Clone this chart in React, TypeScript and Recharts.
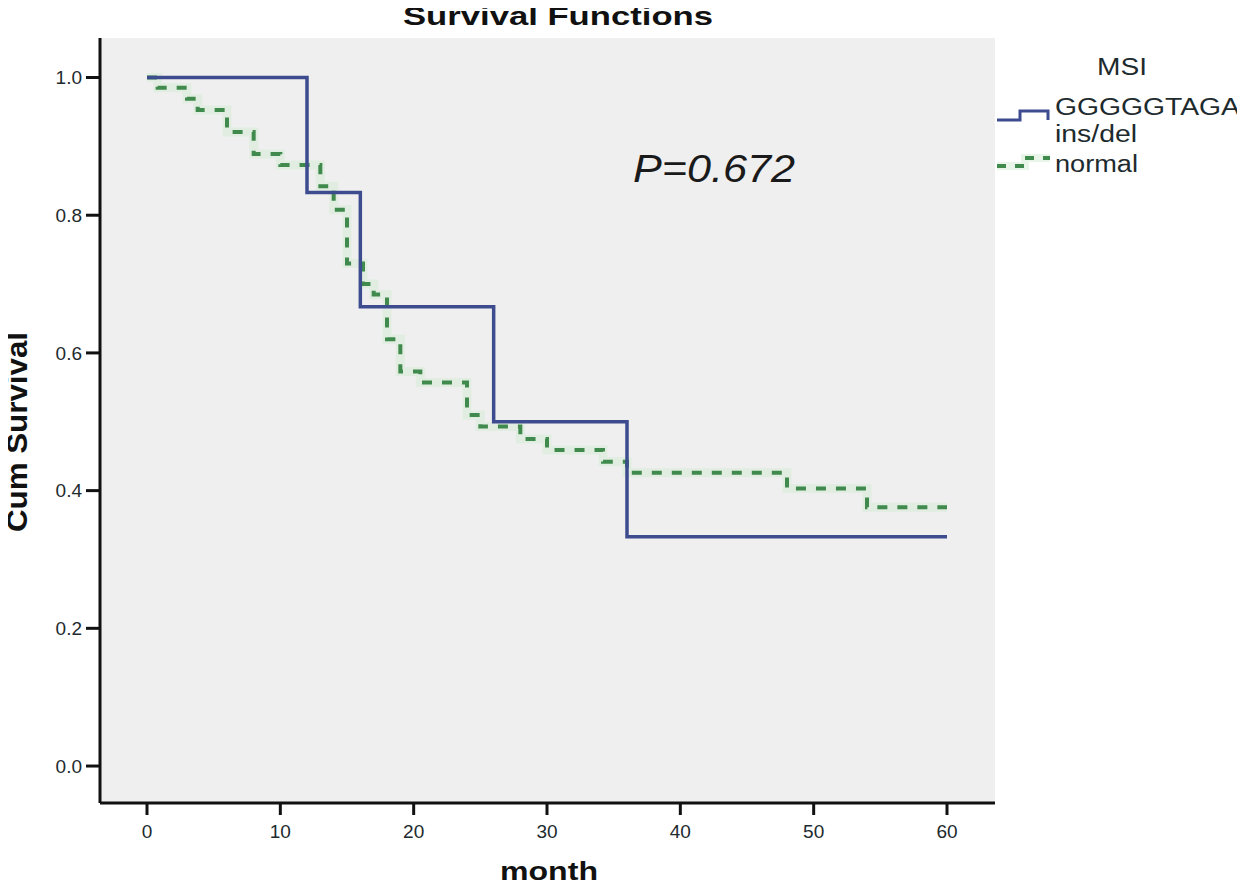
import React from "react";
import { LineChart, Line, XAxis, YAxis, CartesianGrid } from "recharts";

const monthTicks = [0, 10, 20, 30, 40, 50, 60];
const survivalTicks = [0, 0.2, 0.4, 0.6, 0.8, 1.0];

const insdelMonths = [0, 12, 16, 26, 36, 60];
const insdelSurvival = [1.0, 0.833, 0.667, 0.5, 0.333, 0.333];

const normalMonths = [0, 0.8, 3, 3.8, 6, 8, 10, 13, 14, 15, 16.2, 17, 18, 19, 20.5, 24, 25, 28, 30, 34.2, 36, 48, 54, 60];
const normalSurvival = [1.0, 0.985, 0.969, 0.953, 0.921, 0.889, 0.873, 0.842, 0.808, 0.73, 0.7, 0.685, 0.62, 0.573, 0.557, 0.51, 0.493, 0.475, 0.459, 0.442, 0.426, 0.403, 0.376, 0.376];

const insdelData = insdelMonths.map((m, i) => ({ month: m, s: insdelSurvival[i] }));
const normalData = normalMonths.map((m, i) => ({ month: m, s: normalSurvival[i] }));

const FONT = "'Liberation Sans', Arial, sans-serif";
const BLUE = "#3d4b8f";
const GREEN = "#3f8a4c";
const TEXT = "#1d2a2e";

const LegendBox = () => (
  <g transform="translate(988,48)">
    <text x={109} y={27} fontSize={23} fill={TEXT} textLength={50} lengthAdjust="spacingAndGlyphs">MSI</text>
    <path d="M9,72 H32 V63 H60 V72" stroke={BLUE} strokeWidth={3} fill="none" />
    <text x={67} y={67} fontSize={23} fill={TEXT} textLength={185} lengthAdjust="spacingAndGlyphs">GGGGGTAGA</text>
    <text x={67} y={94} fontSize={23} fill={TEXT} textLength={82} lengthAdjust="spacingAndGlyphs">ins/del</text>
    <path d="M9,118 H37 V110 H62" stroke="#d4ecd4" strokeWidth={8} strokeOpacity={0.5} fill="none" />
    <path d="M9,118 H37 V110 H62" stroke={GREEN} strokeWidth={4} strokeDasharray="9 9" fill="none" />
    <text x={67} y={124} fontSize={23} fill={TEXT} textLength={83} lengthAdjust="spacingAndGlyphs">normal</text>
  </g>
);

export default function App() {
  return (
    <div style={{ position: "relative", width: 1245, height: 888, margin: -8, fontFamily: FONT, background: "#fff" }}>
      <div style={{ position: "absolute", left: 8, top: 8 }}>
        <LineChart
          width={1237}
          height={872}
          margin={{ top: 30, right: 250, bottom: 37, left: 0 }}
        >
          <CartesianGrid fill="#efefef" horizontal={false} vertical={false} />
          <XAxis
            xAxisId="main"
            type="number"
            dataKey="month"
            domain={[-3.525, 63.6]}
            ticks={monthTicks}
            allowDataOverflow
            height={40}
            tickSize={12}
            tickMargin={10}
            axisLine={{ stroke: "#111", strokeWidth: 3 }}
            tickLine={{ stroke: "#111", strokeWidth: 3 }}
            tick={{ fill: TEXT, fontSize: 19, fontFamily: FONT }}
          />
          <XAxis
            xAxisId="top"
            orientation="top"
            type="number"
            domain={[-3.525, 63.6]}
            height={0}
            tick={false}
            tickLine={false}
            axisLine={{ stroke: "#888", strokeWidth: 2 }}
          />
          <YAxis
            yAxisId="main"
            type="number"
            domain={[-0.0537, 1.0574]}
            ticks={survivalTicks}
            allowDataOverflow
            width={92}
            tickSize={14}
            tickMargin={4}
            tickFormatter={(v: number) => v.toFixed(1)}
            axisLine={{ stroke: "#111", strokeWidth: 3 }}
            tickLine={{ stroke: "#111", strokeWidth: 3 }}
            tick={{ fill: TEXT, fontSize: 19, fontFamily: FONT }}
          />
          <YAxis
            yAxisId="right"
            orientation="right"
            type="number"
            domain={[-0.0537, 1.0574]}
            width={0}
            tick={false}
            tickLine={false}
            axisLine={{ stroke: "#777", strokeWidth: 2 }}
          />
          <Line
            xAxisId="main"
            yAxisId="main"
            data={normalData}
            dataKey="s"
            type="stepAfter"
            stroke="#d4ecd4"
            strokeWidth={9}
            strokeOpacity={0.5}
            dot={false}
            activeDot={false}
            legendType="none"
            isAnimationActive={false}
          />
          <Line
            xAxisId="main"
            yAxisId="main"
            data={normalData}
            dataKey="s"
            name="normal"
            type="stepAfter"
            stroke={GREEN}
            strokeWidth={4}
            strokeDasharray="10 10"
            dot={false}
            activeDot={false}
            isAnimationActive={false}
          />
          <Line
            xAxisId="main"
            yAxisId="main"
            data={insdelData}
            dataKey="s"
            name="GGGGGTAGA ins/del"
            type="stepAfter"
            stroke={BLUE}
            strokeWidth={3.5}
            dot={false}
            activeDot={false}
            isAnimationActive={false}
          />
        </LineChart>
      </div>
      <svg
        width={1245}
        height={888}
        style={{ position: "absolute", left: 0, top: 0, pointerEvents: "none", fontFamily: FONT }}
      >
        <text x={403} y={25} fontSize={26} fontWeight="bold" fill="#111" textLength={310} lengthAdjust="spacingAndGlyphs">
          Survival Functions
        </text>
        <text
          transform="translate(27,432) rotate(-90)"
          textAnchor="middle"
          fontSize={30}
          fontWeight="bold"
          fill="#111"
          textLength={200}
          lengthAdjust="spacingAndGlyphs"
        >
          Cum Survival
        </text>
        <text x={500} y={880} fontSize={25} fontWeight="bold" fill="#111" textLength={98} lengthAdjust="spacingAndGlyphs">
          month
        </text>
        <text x={633} y={182} fontSize={38} fontStyle="italic" fill="#1a1a1a" textLength={162} lengthAdjust="spacingAndGlyphs">
          P=0.672
        </text>
        <LegendBox />
      </svg>
    </div>
  );
}
